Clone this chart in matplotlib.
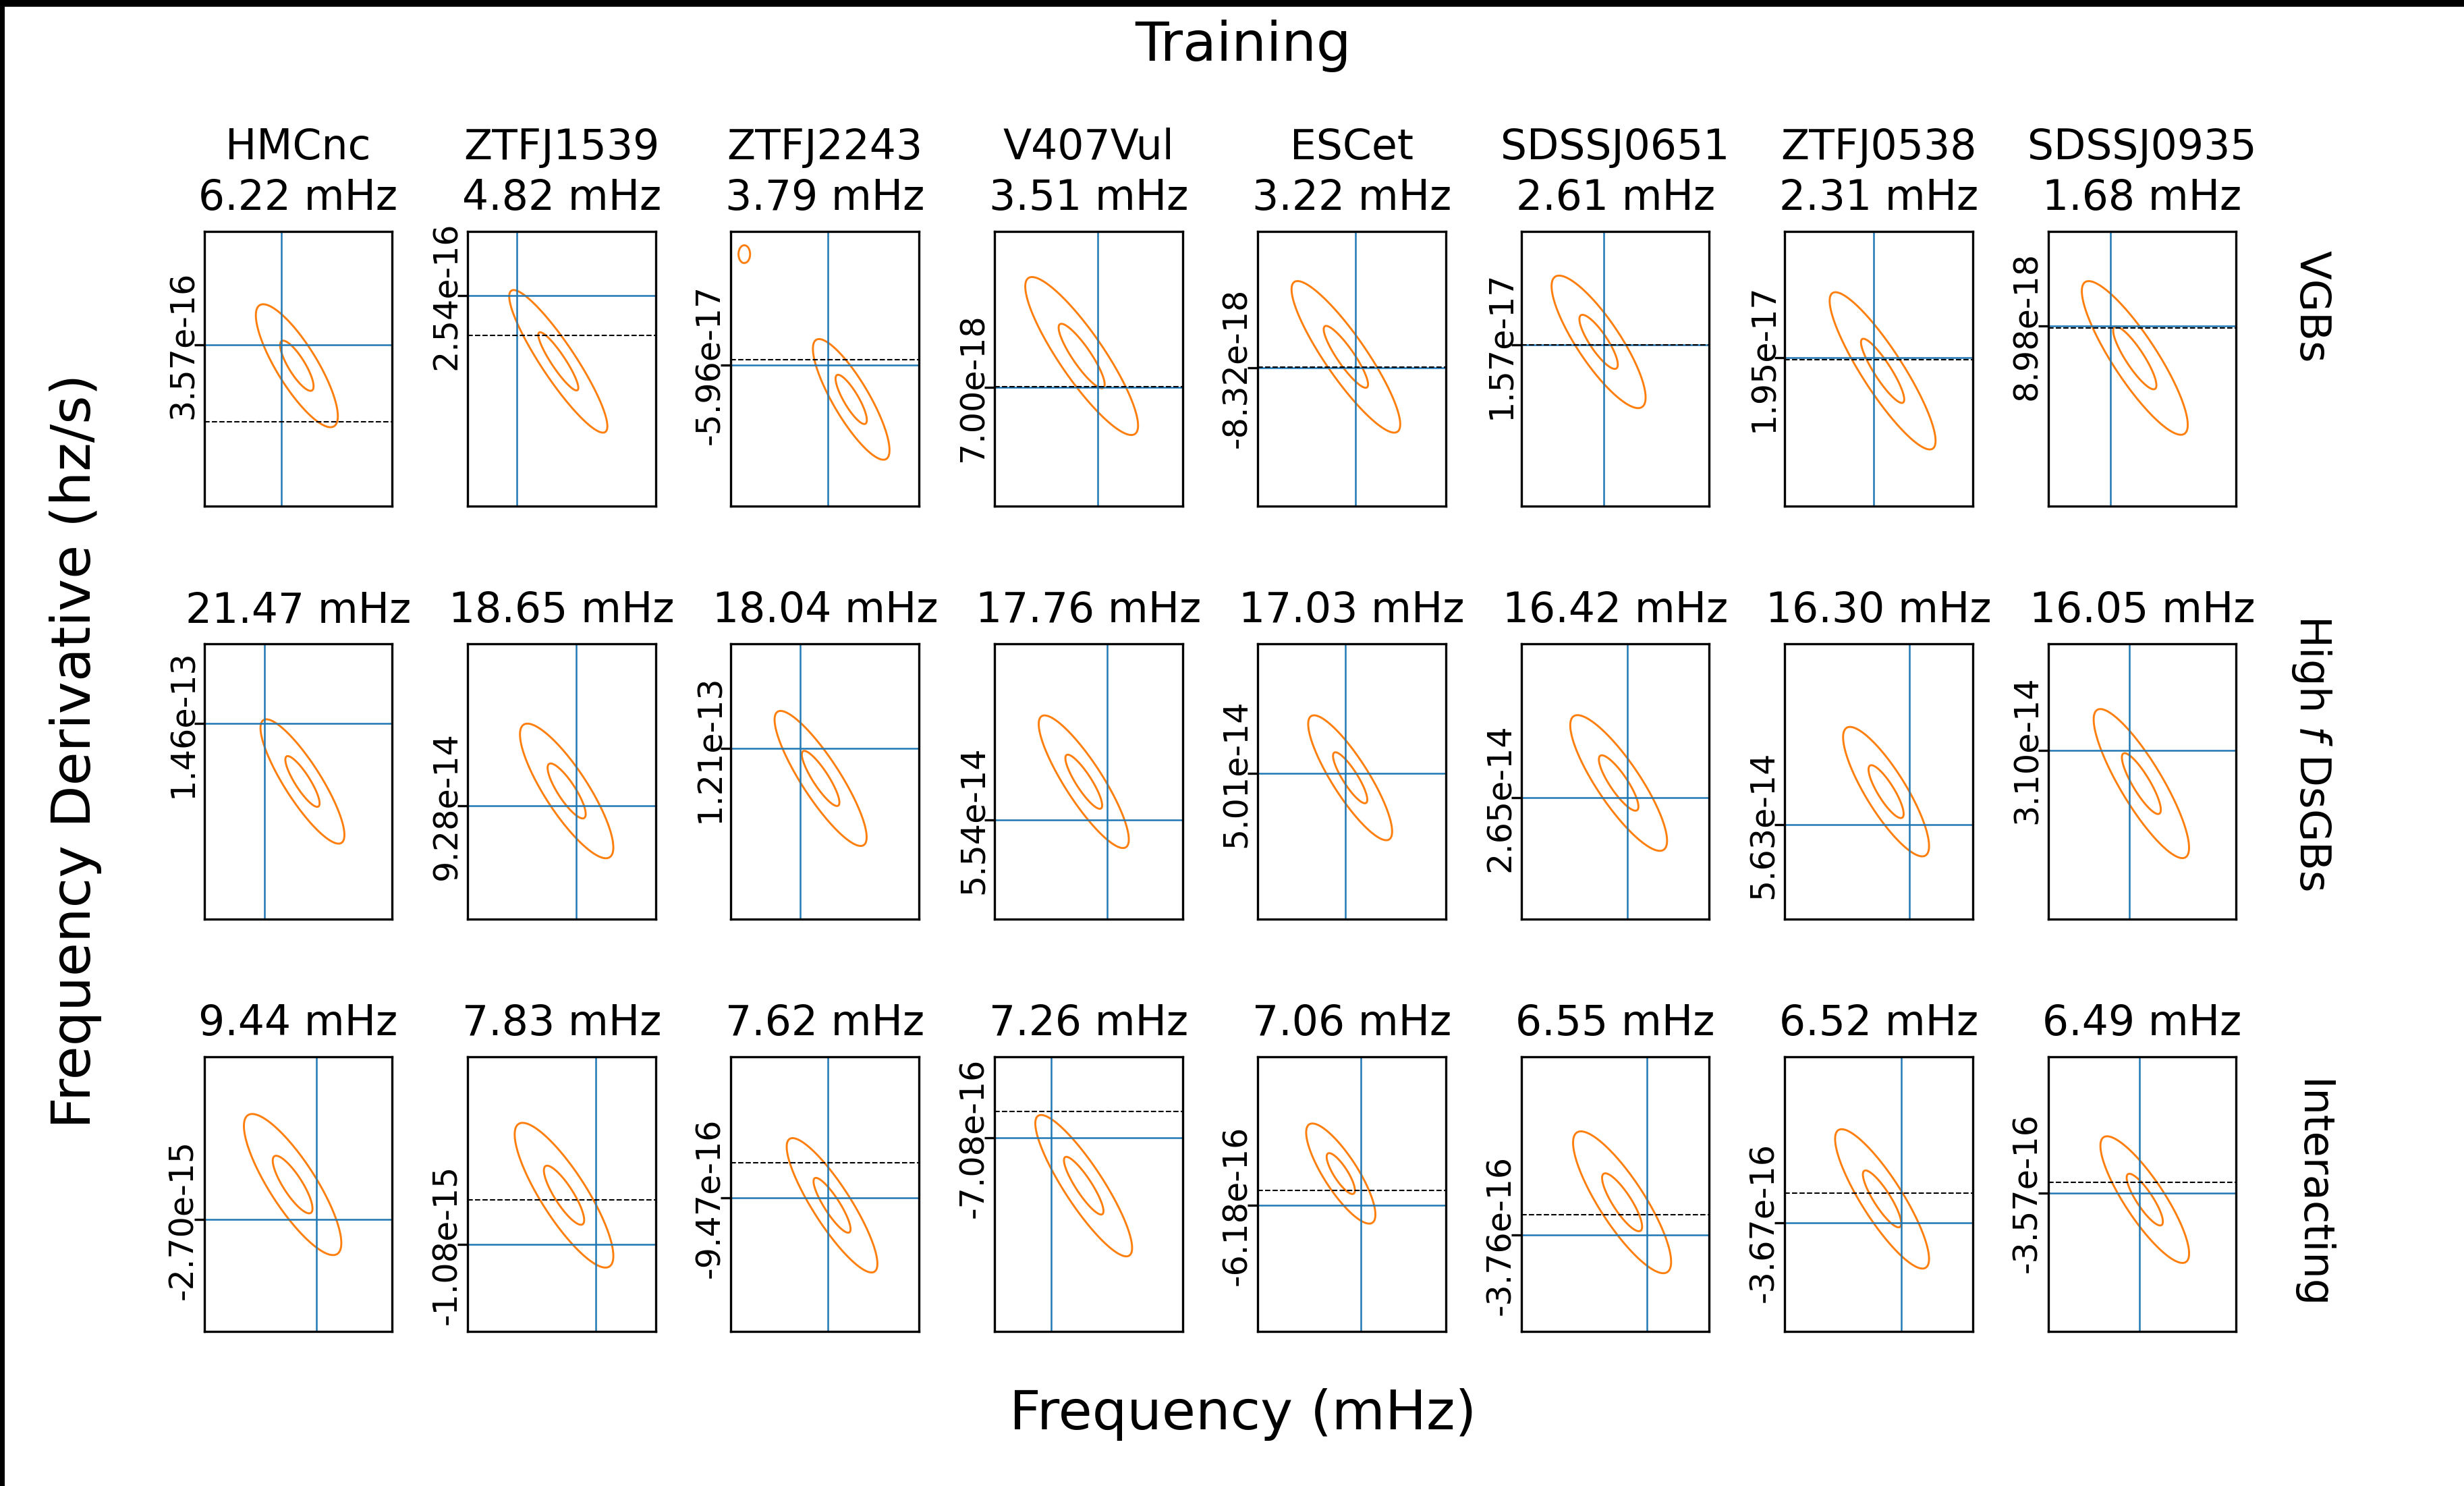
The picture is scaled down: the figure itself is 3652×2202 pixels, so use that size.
import numpy as np
import matplotlib
matplotlib.use("Agg")
import matplotlib.pyplot as plt
from matplotlib.patches import Rectangle

# source names (VGB row only) and injected frequencies / derivatives
row_labels = ["VGBs", "High $f$ DsGBs", "Interacting"]
names = ["HMCnc", "ZTFJ1539", "ZTFJ2243", "V407Vul",
         "ESCet", "SDSSJ0651", "ZTFJ0538", "SDSSJ0935"]

f_mhz = [6.22, 4.82, 3.79, 3.51, 3.22, 2.61, 2.31, 1.68,
         21.47, 18.65, 18.04, 17.76, 17.03, 16.42, 16.30, 16.05,
         9.44, 7.83, 7.62, 7.26, 7.06, 6.55, 6.52, 6.49]

fdot_true = [3.57e-16, 2.54e-16, -5.96e-17, 7.00e-18, -8.32e-18, 1.57e-17, 1.95e-17, 8.98e-18,
             1.46e-13, 9.28e-14, 1.21e-13, 5.54e-14, 5.01e-14, 2.65e-14, 5.63e-14, 3.10e-14,
             -2.70e-15, -1.08e-15, -9.47e-16, -7.08e-16, -6.18e-16, -3.76e-16, -3.67e-16, -3.57e-16]

# posterior widths
f_sd = [2.1e-6, 1.8e-6, 2.4e-6, 2.0e-6, 2.2e-6, 2.6e-6, 2.3e-6, 2.9e-6,
        1.2e-6, 1.4e-6, 1.3e-6, 1.5e-6, 1.4e-6, 1.6e-6, 1.5e-6, 1.7e-6,
        1.9e-6, 2.0e-6, 2.1e-6, 2.0e-6, 2.2e-6, 2.3e-6, 2.2e-6, 2.4e-6]
fdot_sd = [4.5e-17, 3.0e-17, 4.0e-17, 2.5e-17, 3.0e-17, 3.5e-17, 2.0e-17, 1.5e-17,
           6.0e-15, 4.0e-15, 4.0e-15, 3.5e-15, 3.0e-15, 2.5e-15, 2.5e-15, 2.0e-15,
           6.0e-16, 5.0e-16, 4.5e-16, 4.0e-16, 3.5e-16, 3.0e-16, 3.0e-16, 3.0e-16]
rho = [-0.82, -0.91, -0.84, -0.88, -0.89, -0.84, -0.89, -0.87,
       -0.86, -0.84, -0.87, -0.87, -0.86, -0.85, -0.84, -0.86,
       -0.83, -0.84, -0.87, -0.88, -0.82, -0.84, -0.86, -0.85]

# offset of the injected values from the posterior mean, in posterior sigmas
f_off = [-0.92, -2.08, -1.50, 0.70, 0.42, 0.27, -0.40, -1.12,
         -2.22, 0.51, -1.09, 1.28, -0.30, 0.44, 1.31, -0.62,
         1.19, 1.59, -0.24, -1.63, 1.40, 1.24, 1.01, -0.29]
fdot_off = [0.82, 2.25, 1.40, -0.98, -0.36, -0.12, 0.40, 1.02,
            2.28, -0.54, 1.09, -1.41, 0.18, -0.54, -1.26, 1.10,
            -1.22, -1.67, 0.27, 1.65, -1.55, -1.13, -0.83, 0.26]
# GR-only fdot (dashed), same units; nan where it falls off the panel
gr_off = [-2.24, 0.89, 1.61, -0.96, -0.34, -0.10, 0.35, 0.96,
          np.nan, np.nan, np.nan, np.nan, np.nan, np.nan, np.nan, np.nan,
          np.nan, -0.16, 1.55, 2.58, -0.82, -0.44, 0.20, 0.66]

# kde grid extent, in posterior sigmas
f_lim = [(-5.54, 5.70), (-4.53, 4.86), (-7.69, 4.34), (-3.79, 4.38),
         (-3.97, 4.51), (-4.03, 5.77), (-4.53, 4.17), (-4.01, 4.69),
         (-5.74, 5.24), (-5.20, 4.67), (-4.77, 5.24), (-4.86, 5.37),
         (-5.39, 5.59), (-4.93, 4.59), (-5.78, 4.94), (-4.79, 4.87),
         (-4.45, 5.01), (-4.79, 4.55), (-5.46, 4.70), (-4.52, 5.00),
         (-5.87, 7.44), (-5.04, 4.36), (-5.08, 4.73), (-5.34, 5.05)]
fdot_lim = [(-5.60, 5.36), (-4.98, 4.47), (-4.34, 6.83), (-4.66, 3.87),
            (-4.83, 4.06), (-6.08, 4.09), (-4.22, 4.35), (-4.73, 4.04),
            (-5.42, 5.42), (-4.66, 5.35), (-5.10, 4.88), (-5.07, 5.09),
            (-5.54, 5.25), (-4.91, 5.02), (-4.82, 5.59), (-4.45, 4.59),
            (-5.11, 4.44), (-4.62, 4.69), (-4.61, 5.42), (-5.06, 4.47),
            (-7.74, 5.72), (-4.47, 5.03), (-4.67, 5.00), (-5.11, 5.53)]

# small spurious kde island in the ZTFJ2243 panel
spur_panel = 2
spur_pos = (-6.84, 5.90)
spur_sd = (0.38, 0.37)
spur_amp = 0.08

# 95% and 39% contours of a 2d gaussian
levels = sorted([np.exp(-0.5 * 2.45 ** 2), np.exp(-0.5)])

fig, axes = plt.subplots(3, 8, figsize=(3652 / 300, 2202 / 300), dpi=300,
                         gridspec_kw=dict(left=0.08286, right=0.90753,
                                          bottom=0.10386, top=0.84437,
                                          wspace=0.401, hspace=0.501))

for i, ax in enumerate(axes.flat):
    sx, sy = f_sd[i], fdot_sd[i]
    mx = f_mhz[i] - f_off[i] * sx
    my = fdot_true[i] - fdot_off[i] * sy

    u = np.linspace(f_lim[i][0], f_lim[i][1], 400)
    v = np.linspace(fdot_lim[i][0], fdot_lim[i][1], 400)
    U, V = np.meshgrid(u, v)
    r = rho[i]
    Z = np.exp(-0.5 * (U ** 2 - 2 * r * U * V + V ** 2) / (1 - r ** 2))
    if i == spur_panel:
        Z += spur_amp * np.exp(-0.5 * (((U - spur_pos[0]) / spur_sd[0]) ** 2
                                       + ((V - spur_pos[1]) / spur_sd[1]) ** 2))

    ax.contour(mx + U * sx, my + V * sy, Z, levels=levels,
               colors="tab:orange", linewidths=0.7)
    ax.axvline(f_mhz[i], color="tab:blue", lw=0.6)
    ax.axhline(fdot_true[i], color="tab:blue", lw=0.6)
    if not np.isnan(gr_off[i]):
        ax.axhline(my + gr_off[i] * sy, color="k", ls="--", lw=0.5)

    ax.set_xlim(mx + f_lim[i][0] * sx, mx + f_lim[i][1] * sx)
    ax.set_ylim(my + fdot_lim[i][0] * sy, my + fdot_lim[i][1] * sy)
    ax.set_xticks([])
    ax.set_yticks([fdot_true[i]])
    ax.set_yticklabels([f"{fdot_true[i]:.2e}"], rotation=90, va="center", fontsize=11.8)
    ax.tick_params(axis="y", pad=-1.8)

    if i < 8:
        ax.set_title(f"{names[i]}\n{f_mhz[i]:.2f} mHz", fontsize=14.8,
                     pad=7.7, linespacing=1.32)
    else:
        ax.set_title(f"{f_mhz[i]:.2f} mHz", fontsize=14.8, pad=7.7)

# row labels on the right
for y, lab in zip([1 - 454 / 2202, 1 - 1115 / 2202, 1 - 1770 / 2202], row_labels):
    fig.text(3426 / 3652, y, lab, rotation=270, ha="center", va="center", fontsize=15)

fig.text(1842 / 3652, 1 - 68 / 2202, "Training", ha="center", va="center", fontsize=19.5)
fig.text(1842 / 3652, 1 - 2096 / 2202, "Frequency (mHz)", ha="center", va="center", fontsize=19.5)
fig.text(112 / 3652, 1 - 1113 / 2202, "Frequency Derivative (hz/s)", rotation=90,
         ha="center", va="center", fontsize=19.5)

# dark frame strips along top and left edge
fig.add_artist(Rectangle((0, 1 - 10 / 2202), 1, 10 / 2202, transform=fig.transFigure,
                         color="black", lw=0))
fig.add_artist(Rectangle((0, 0), 7 / 3652, 1, transform=fig.transFigure,
                         color="black", lw=0))

fig.savefig("out.png", dpi=300)
